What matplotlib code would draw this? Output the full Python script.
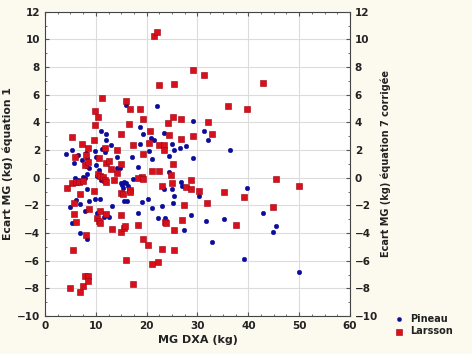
import matplotlib
matplotlib.use("Agg")
import matplotlib.pyplot as plt
from matplotlib.ticker import MultipleLocator

# Larsson (red squares)
larsson_x = [21.4, 22.0, 29.2, 31.2, 22.5, 25.4, 42.8, 11.3, 16.0, 16.7, 36.1, 39.7, 18.7, 9.8,
             10.5, 25.2, 19.2, 26.7, 16.5, 24.2, 32.1, 9.8, 20.7, 15.0, 24.4, 32.9, 5.4, 29.2,
             26.8, 9.6, 20.5, 22.5, 7.2, 17.4, 8.4, 11.9, 23.5, 23.5, 14.2, 19.2, 8.1, 5.9,
             10.7, 7.9, 8.5, 12.1, 12.6, 14.9, 25.2, 13.0, 14.1, 10.4, 10.8, 11.5, 11.9, 12.1,
             13.5, 19.0, 18.2, 19.2, 21.0, 22.4, 24.7, 28.7, 5.4, 6.2, 6.6, 7.5, 4.3, 6.9,
             5.7, 5.7, 6.1, 5.5, 4.9, 6.8, 7.4, 7.9, 8.4, 8.4, 8.1, 8.7, 9.7, 10.2, 10.6,
             10.8, 10.8, 12.1, 13.2, 15.0, 15.0, 15.5, 15.8, 14.9, 15.4, 16.7, 16.7, 18.2,
             19.2, 20.2, 16.0, 17.3, 21.0, 22.2, 23.1, 25.4, 25.3, 23.7, 23.9, 23.0, 25.0,
             27.3, 26.9, 27.7, 28.8, 30.2, 31.8, 35.2, 39.1, 37.6, 44.9, 45.4, 50.0]
larsson_y = [10.27, 10.55, 7.8, 7.42, 6.67, 6.75, 6.82, 5.76, 5.52, 4.96, 5.18, 4.94, 4.99, 4.84,
             4.39, 4.36, 4.24, 4.24, 3.86, 3.93, 4.02, 3.78, 3.40, 3.18, 3.11, 3.16, 2.92, 3.01,
             2.82, 2.70, 2.53, 2.34, 2.46, 2.39, 2.17, 2.12, 2.34, 2.02, 2.02, 1.73, 1.64, 1.52,
             1.45, 0.94, 1.16, 1.08, 1.18, 0.99, 0.99, 0.63, 0.31, 0.29, 0.12, 0.02, -0.17, -0.31,
             -0.19, 0.05, 0.0, -0.10, 0.46, 0.51, 0.19, -0.19, -0.36, -0.29, -0.34, -0.22, -0.77, -1.18,
             -1.86, -2.60, -3.20, -5.23, -8.0, -8.27, -7.83, -7.08, -7.08, -7.47, -4.14, -2.27, -0.94, -2.94, -3.16,
             -2.43, -3.30, -2.60, -3.71, -3.95, -2.70, -3.66, -3.47, -1.08, -1.18, -0.89, -1.04, -3.45,
             -4.46, -4.89, -5.93, -7.71, -6.22, -6.10, -5.18, -5.23, -3.78, -3.20, -3.30, -0.60, -0.39,
             -1.98, -3.06, -0.70, -0.80, -0.96, -1.81, -1.01, -1.37, -3.45, -2.14, -0.10, -0.60]

# Pineau (blue circles)
pineau_x = [4.2, 5.4, 6.4, 5.7, 6.0, 7.4, 8.3, 8.0, 7.3, 10.0, 9.9, 8.1, 8.3, 10.0, 10.6, 10.2,
            11.0, 10.95, 12.1, 12.0, 12.9, 11.3, 11.9, 14.1, 14.1, 14.8, 14.9, 15.1, 15.5, 15.3,
            15.6, 16.1, 15.9, 16.4, 17.4, 17.2, 18.6, 19.2, 18.7, 18.2, 19.2, 19.0, 18.2, 20.2,
            20.5, 20.9, 21.5, 21.0, 21.0, 22.0, 23.5, 24.3, 24.3, 24.9, 25.4, 26.6, 27.7, 26.8,
            26.9, 24.9, 23.5, 25.4, 25.2, 23.1, 22.2, 23.6, 27.3, 28.7, 29.2, 29.2, 31.2, 32.1,
            30.2, 31.6, 32.9, 35.2, 36.3, 39.8, 39.1, 42.9, 44.9, 45.4, 50.0, 8.3, 6.8, 5.4,
            4.9, 6.1, 6.9, 7.8, 8.7, 9.9, 10.8, 8.2, 10.2, 11.6, 12.5, 13.2, 6.4, 5.9, 7.9,
            8.6, 16.6, 16.0]
pineau_y = [1.75, 2.0, 1.64, 1.04, 0.0, 0.07, 0.27, 0.87, 1.28, 1.52, 1.93, 1.81, 1.45, 0.94, 0.55, 0.14,
            -0.17, 3.40, 3.16, 2.72, 2.36, 2.10, 1.83, 0.72, 1.52, 0.67, -0.36, -0.53, -0.29, -0.77,
            -1.69, -1.69, 5.23, -0.58, -0.10, 1.52, 3.69, 3.13, 2.41, 0.80, 0.0, -1.73, -2.58, -1.52,
            1.93, 2.84, 2.72, 1.33, -2.19, 5.18, 3.20, 1.57, 0.42, 2.43, 2.0, 2.17, 2.31, -0.29,
            -0.60, -0.84, -0.84, -1.30, -1.86, -2.02, -2.89, -2.94, -3.78, -2.72, 1.45, 4.12, 3.35, 2.72,
            -1.30, -3.11, -4.67, -2.99, 2.02, -0.75, -5.88, -2.55, -3.90, -3.47, -6.80, -4.43, -3.98, -3.30,
            -2.14, -1.61, -1.90, -2.39, -1.66, -1.57, -1.57, -0.84, -2.58, -2.87, -2.87, -2.02, -0.17, -0.41, -0.05,
            0.68, -0.84, -0.36]

x_ticks = [0, 10, 20, 30, 40, 50, 60]
y_ticks = [-10, -8, -6, -4, -2, 0, 2, 4, 6, 8, 10, 12]

plt.rcParams['font.family'] = ['DejaVu Sans']
fig = plt.figure(figsize=(4.72, 3.54), dpi=100, facecolor='#fcf9ef')
ax = fig.add_axes([0.0953, 0.107, 0.6462, 0.860])
ax.set_facecolor('white')

ax.scatter(pineau_x, pineau_y, s=11, marker='o', color='#0b0b9c', edgecolors='#0b0b9c',
           linewidths=0.3, label='Pineau', zorder=3)
ax.scatter(larsson_x, larsson_y, s=21, marker='s', color='#d8101c', edgecolors='#a00010',
           linewidths=0.4, label='Larsson', zorder=3)

ax.set_xlim(0, 60)
ax.set_ylim(-10, 12)
ax.set_xticks(x_ticks)
ax.set_yticks(y_ticks)
ax.xaxis.set_minor_locator(MultipleLocator(2.5))
ax.yaxis.set_minor_locator(MultipleLocator(1))
ax.grid(True, which='major', color='#dcdcdc', linewidth=0.8, zorder=0)
ax.set_axisbelow(True)
ax.tick_params(which='both', direction='in', top=True, right=True, colors='#555555',
               labelcolor='#222222')
ax.tick_params(which='major', length=3, labelsize=7.5)
ax.tick_params(which='minor', length=1.5)
for lab in ax.get_xticklabels() + ax.get_yticklabels():
    lab.set_fontweight('bold')
for sp in ax.spines.values():
    sp.set_color('#444444')
    sp.set_linewidth(0.8)

ax.set_xlabel('MG DXA (kg)', fontsize=8, fontweight='bold', color='#222222', labelpad=3)
ax.set_ylabel('Ecart MG (kg) équation 1', fontsize=7.8, fontweight='bold', color='#222222', labelpad=3)

ax2 = ax.twinx()
ax2.set_ylim(-10, 12)
ax2.set_yticks(y_ticks)
ax2.yaxis.set_minor_locator(MultipleLocator(1))
ax2.tick_params(which='both', direction='in', colors='#555555', labelcolor='#222222')
ax2.tick_params(which='major', length=3, labelsize=7.5)
ax2.tick_params(which='minor', length=1.5)
for lab in ax2.get_yticklabels():
    lab.set_fontweight('bold')
for sp in ax2.spines.values():
    sp.set_visible(False)
ax2.set_ylabel('Ecart MG (kg) équation 7 corrigée', fontsize=7.0, fontweight='bold',
               color='#222222', labelpad=2)

leg = ax.legend(loc='upper left', bbox_to_anchor=(1.115, 0.02), frameon=False,
                fontsize=7, handletextpad=0.2, labelspacing=0.25, markerscale=0.9,
                borderaxespad=0)
for t in leg.get_texts():
    t.set_fontweight('bold')
    t.set_color('#222222')

fig.savefig('out.png', dpi=100, facecolor=fig.get_facecolor())
